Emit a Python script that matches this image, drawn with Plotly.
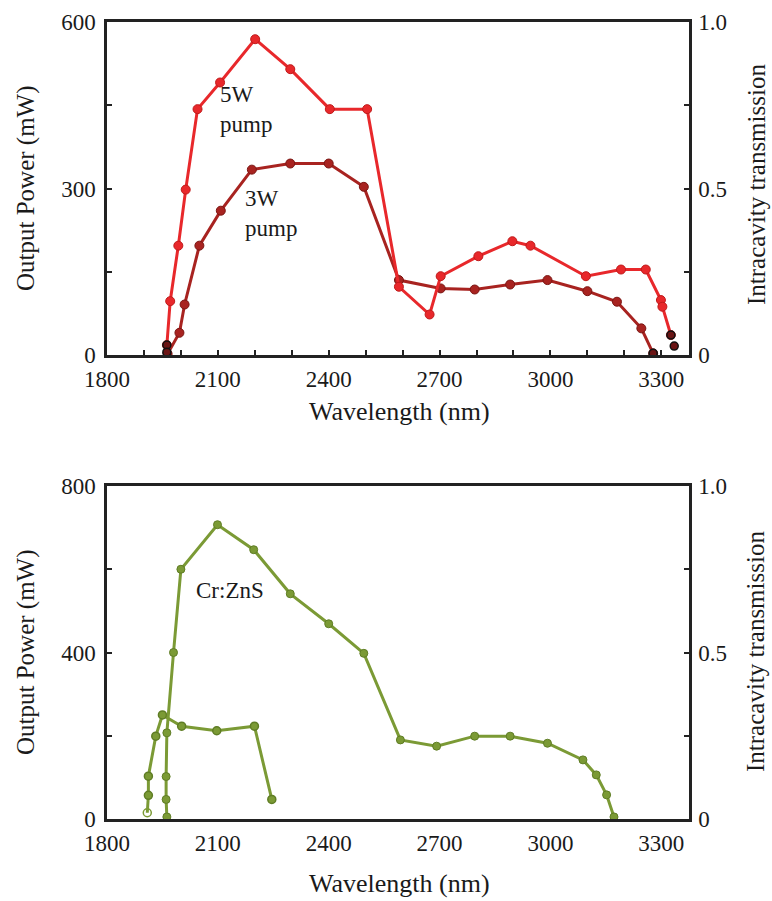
import plotly.graph_objects as go

# top panel: output power vs wavelength, 5 W and 3 W pump
wl_5w = [1962, 1971, 1993, 2013, 2045, 2106, 2201, 2296, 2403, 2504, 2590, 2673, 2703,
         2805, 2897, 2946, 3096, 3191, 3258, 3299, 3303, 3326]
p_5w = [18, 97, 197, 298, 443, 491, 569, 515, 443, 443, 123, 73, 142,
        178, 205, 197, 142, 154, 154, 99, 87, 36]

wl_3w = [1964, 1996, 2010, 2050, 2108, 2192, 2296, 2400, 2495, 2590, 2703, 2795,
         2891, 2992, 3100, 3180, 3246, 3278]
p_3w = [2, 40, 91, 197, 260, 334, 345, 345, 303, 135, 120, 118,
        127, 135, 115, 96, 48, 3]

# dark end points
wl_end = [1962, 1962, 3278, 3326, 3335]
p_end = [18, 5, 3, 36, 16]

# bottom panel: Cr:ZnS
wl_zns = [1962, 1960, 1960, 1962, 1980, 2000, 2099, 2197, 2296, 2400, 2495, 2594,
          2692, 2795, 2891, 2992, 3088, 3124, 3152, 3172]
p_zns = [5, 47, 102, 207, 400, 600, 707, 647, 541, 469, 398, 190,
         175, 199, 199, 182, 142, 106, 58, 5]

wl_zns2 = [1909, 1912, 1912, 1932, 1950, 2002, 2097, 2199, 2246]
p_zns2 = [15, 57, 103, 199, 250, 223, 212, 223, 47]

x_ticks = [1800, 2100, 2400, 2700, 3000, 3300]

FONT = "Liberation Serif"
RED = "#e8282b"
DARKRED = "#a82320"
GREEN = "#7b9a35"
AX = "#222222"

fig = go.Figure()

fig.add_trace(go.Scatter(x=wl_3w, y=p_3w, mode="lines+markers", xaxis="x", yaxis="y",
                         line=dict(color=DARKRED, width=3),
                         marker=dict(color=DARKRED, size=9, line=dict(color="#7a1512", width=1))))
fig.add_trace(go.Scatter(x=wl_5w, y=p_5w, mode="lines+markers", xaxis="x", yaxis="y",
                         line=dict(color=RED, width=3),
                         marker=dict(color=RED, size=9, line=dict(color="#c01a1a", width=1))))
fig.add_trace(go.Scatter(x=wl_end, y=p_end, mode="markers", xaxis="x", yaxis="y",
                         marker=dict(color="#6a1414", size=8, line=dict(color="#111", width=1.5))))
fig.add_trace(go.Scatter(x=[], y=[], xaxis="x", yaxis="y2"))

sym2 = ["circle-open"] + ["circle"] * (len(wl_zns2) - 1)
fig.add_trace(go.Scatter(x=wl_zns2, y=p_zns2, mode="lines+markers", xaxis="x2", yaxis="y3",
                         line=dict(color=GREEN, width=3),
                         marker=dict(color=GREEN, size=8, symbol=sym2,
                                     line=dict(color="#5f7d25", width=1.5))))
fig.add_trace(go.Scatter(x=wl_zns, y=p_zns, mode="lines+markers", xaxis="x2", yaxis="y3",
                         line=dict(color=GREEN, width=3),
                         marker=dict(color=GREEN, size=8, line=dict(color="#5f7d25", width=1))))
fig.add_trace(go.Scatter(x=[], y=[], xaxis="x2", yaxis="y4"))

xdom = [107 / 772, 689 / 772]
top_dom = [(901 - 355) / 901, (901 - 22) / 901]
bot_dom = [(901 - 819) / 901, (901 - 486) / 901]

tickfont = dict(family=FONT, size=23, color="#1a1a1a")
common = dict(showline=True, linecolor=AX, linewidth=2.5, showgrid=False, zeroline=False,
              tickfont=tickfont, ticks="inside", tickcolor=AX, ticklen=5, tickwidth=2,
              automargin=False)
mtick = dict(ticks="inside", ticklen=5, tickcolor=AX, tickwidth=2)

fig.update_layout(
    width=772, height=901,
    margin=dict(l=0, r=0, t=0, b=0),
    paper_bgcolor="white", plot_bgcolor="white",
    showlegend=False,
    xaxis=dict(domain=xdom, anchor="y", range=[1800, 3375], tickvals=x_ticks,
               minor=dict(dtick=100, **mtick), mirror=True, ticklabelstandoff=2, **common),
    yaxis=dict(domain=top_dom, anchor="x", range=[0, 600], tickvals=[0, 300, 600],
               minor=dict(dtick=150, **mtick), ticklabelstandoff=4, **common),
    yaxis2=dict(overlaying="y", side="right", anchor="x", range=[0, 1],
                tickvals=[0, 0.5, 1], ticktext=["0", "0.5", "1.0"],
                minor=dict(dtick=0.25, **mtick), ticklabelstandoff=2, **common),
    xaxis2=dict(domain=xdom, anchor="y3", range=[1800, 3375], tickvals=x_ticks,
                mirror=True, ticklabelstandoff=2,
                **{**common, "ticks": "", "ticklen": 0}),
    yaxis3=dict(domain=bot_dom, anchor="x2", range=[0, 800], tickvals=[0, 400, 800],
                minor=dict(dtick=200, **mtick), ticklabelstandoff=4, **common),
    yaxis4=dict(overlaying="y3", side="right", anchor="x2", range=[0, 1],
                tickvals=[0, 0.5, 1], ticktext=["0", "0.5", "1.0"],
                minor=dict(dtick=0.25, **mtick), ticklabelstandoff=2, **common),
)

lab = dict(family=FONT, size=23, color="#1a1a1a")


def title(x, y, text, size, angle=0):
    return dict(x=x / 772, y=(901 - y) / 901, xref="paper", yref="paper", text=text,
                xanchor="center", yanchor="middle", textangle=angle, showarrow=False,
                font=dict(family=FONT, size=size, color="#1a1a1a"))


annots = [
    dict(x=2101, y=495, xref="x", yref="y", text="5W<br>pump", xanchor="left", yanchor="top",
         align="left", showarrow=False, font=lab),
    dict(x=2168, y=308, xref="x", yref="y", text="3W<br>pump", xanchor="left", yanchor="top",
         align="left", showarrow=False, font=lab),
    dict(x=2036, y=548, xref="x2", yref="y3", text="Cr:ZnS", xanchor="left", yanchor="middle",
         showarrow=False, font=lab),
    title(400, 411, "Wavelength (nm)", 26),
    title(400, 883, "Wavelength (nm)", 26),
    title(26, 188, "Output Power (mW)", 25, -90),
    title(26, 652, "Output Power (mW)", 25, -90),
    title(756, 185, "Intracavity transmission", 25, -90),
    title(756, 652, "Intracavity transmission", 25, -90),
]
fig.update_layout(annotations=annots)

fig.write_html("out.html", config={"displayModeBar": False},
               post_script="document.body.style.margin='0';")
